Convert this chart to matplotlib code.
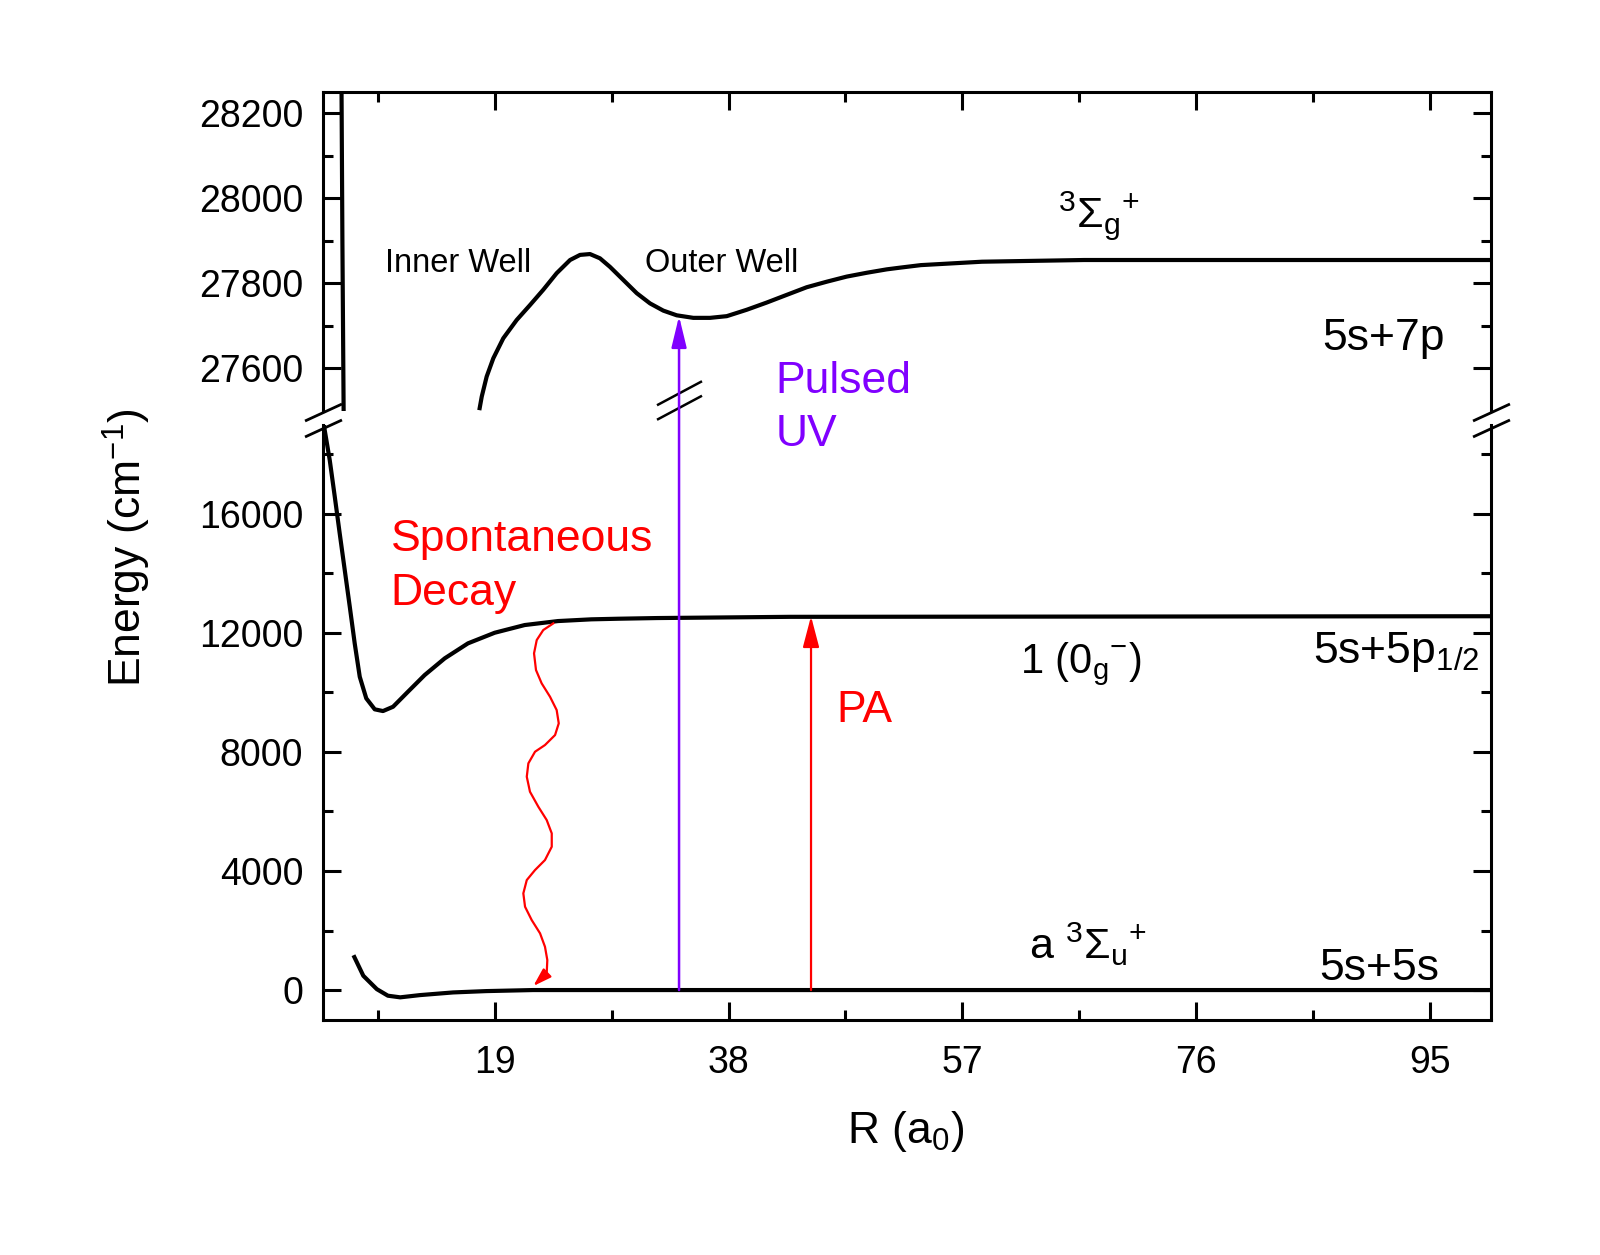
import numpy as np
import matplotlib
matplotlib.use('Agg')
import matplotlib.pyplot as plt
from matplotlib.patches import ConnectionPatch
from matplotlib.path import Path

plt.rcParams['font.family'] = ['Liberation Sans', 'DejaVu Sans']
plt.rcParams['mathtext.fontset'] = 'custom'
plt.rcParams['mathtext.rm'] = 'Liberation Sans'
plt.rcParams['mathtext.it'] = 'Liberation Sans'
plt.rcParams['mathtext.bf'] = 'Liberation Sans:bold'
plt.rcParams['mathtext.default'] = 'regular'

# --- curves (R in a0, E in cm-1) ---
# 5s+7p 3Sigma_g+ : inner wall and the double well
wall_r = [6.52, 6.60, 6.70]
wall_e = [28300, 27900, 27500]
upper_r = [17.73, 17.93, 18.33, 18.87, 19.68, 20.77, 21.85, 22.93, 24.02, 25.11,
           25.92, 26.73, 27.54, 28.35, 29.44, 30.53, 31.61, 32.69, 33.78, 35.13,
           36.49, 37.85, 39.47, 41.10, 42.72, 44.35, 45.98, 47.60, 49.23, 50.85,
           51.93, 53.63, 58.6, 66.9, 100]
upper_e = [27502, 27534, 27581, 27624, 27671, 27714, 27749, 27785, 27824, 27855,
           27867, 27869, 27859, 27839, 27808, 27777, 27753, 27736, 27725, 27719,
           27719, 27723, 27738, 27755, 27773, 27791, 27804, 27816, 27825, 27833,
           27837, 27843, 27851, 27855, 27855]

# 5s+5p1/2 1(0g-)
mid_r = [5.09, 5.16, 5.57, 5.98, 6.38, 6.79, 7.20, 7.60, 8.01, 8.54,
         9.23, 9.90, 10.72, 11.93, 13.29, 14.92, 16.81, 18.98, 21.42, 24.13,
         26.84, 29.01, 32.18, 43.0, 100]
mid_e = [19000, 18816, 17808, 16575, 15345, 14112, 12879, 11649, 10527, 9801,
         9432, 9374, 9519, 10023, 10584, 11145, 11649, 12005, 12264, 12398,
         12456, 12476, 12499, 12540, 12560]

# 5s+5s a3Sigma_u+
low_r = [7.5, 8.3, 9.4, 10.3, 11.3, 12.9, 15.6, 18.3, 22.1, 100]
low_e = [1170, 480, 30, -190, -245, -170, -80, -35, 0, 0]

# spontaneous decay wiggle
wave_r = [23.75, 22.93, 22.40, 22.18, 22.34, 22.80, 23.48, 24.02, 24.19, 23.89,
          23.07, 22.26, 21.72, 21.59, 21.85, 22.53, 23.21, 23.62, 23.62, 23.07,
          22.26, 21.59, 21.31, 21.45, 21.99, 22.67, 23.07, 23.26, 23.21, 22.12]
wave_e = [12321, 12096, 11760, 11313, 10752, 10305, 9855, 9408, 8961, 8568,
          8232, 8007, 7617, 7167, 6663, 6159, 5712, 5265, 4815, 4368,
          4032, 3696, 3249, 2799, 2352, 1905, 1455, 1008, 561, 134]

# transitions
uv_r, uv_e0, uv_e1 = 33.97, 0, 27723
pa_r, pa_e0, pa_e1 = 44.7, 0, 12560

x_major = [19, 38, 57, 76, 95]
x_minor = [9.5, 28.5, 47.5, 66.5, 85.5]
top_major = [27600, 27800, 28000, 28200]
top_minor = [27700, 27900, 28100]
bot_major = [0, 4000, 8000, 12000, 16000]
bot_minor = [2000, 6000, 10000, 14000, 18000]

RED = '#ff0000'
PURPLE = '#8000ff'

fig = plt.figure(figsize=(16, 12.55), dpi=100)
ax_top = fig.add_axes([0.2017, 0.6725, 0.7303, 0.2542])
ax_bot = fig.add_axes([0.2017, 0.1874, 0.7303, 0.4743])


def style(ax):
    ax.patch.set_visible(False)
    for s in ax.spines.values():
        s.set_linewidth(2.2)
    ax.tick_params(which='both', direction='in', width=2.2, labelsize=27,
                   pad=14, top=True, right=True)
    ax.tick_params(axis='x', pad=18)
    ax.tick_params(which='major', length=13)
    ax.tick_params(which='minor', length=7.5)
    ax.set_xlim(5, 100)
    ax.set_xticks(x_major)
    ax.set_xticks(x_minor, minor=True)


style(ax_top)
style(ax_bot)

ax_top.set_ylim(27500, 28250)
ax_top.set_yticks(top_major)
ax_top.set_yticks(top_minor, minor=True)
ax_top.spines['bottom'].set_visible(False)
ax_top.tick_params(which='both', bottom=False, labelbottom=False)

ax_bot.set_ylim(-1000, 19000)
ax_bot.set_yticks(bot_major)
ax_bot.set_yticks(bot_minor, minor=True)
ax_bot.spines['top'].set_visible(False)
ax_bot.tick_params(which='both', top=False)

# curves
ax_top.plot(wall_r, wall_e, color='k', lw=3, solid_capstyle='butt')
ax_top.plot(upper_r, upper_e, color='k', lw=3, solid_capstyle='butt')
ax_bot.plot(mid_r, mid_e, color='k', lw=3, solid_capstyle='butt')
ax_bot.plot(low_r, low_e, color='k', lw=3, solid_capstyle='butt')

# spontaneous decay
ax_bot.plot(wave_r[:-1], wave_e[:-1], color=RED, lw=1.6)
ax_bot.annotate('', xy=(wave_r[-1], wave_e[-1]), xytext=(wave_r[-2], wave_e[-2]),
                arrowprops=dict(arrowstyle='-|>,head_length=1.1,head_width=0.35',
                                color=RED, lw=1.6, shrinkA=0, shrinkB=0,
                                mutation_scale=10))

# PA arrow
ax_bot.annotate('', xy=(pa_r, pa_e1), xytext=(pa_r, pa_e0),
                arrowprops=dict(arrowstyle='-|>,head_length=0.95,head_width=0.25',
                                color=RED, lw=1.6, shrinkA=0, shrinkB=0,
                                mutation_scale=20))

# pulsed UV arrow spanning both panels
uv = ConnectionPatch(xyA=(uv_r, uv_e0), coordsA=ax_bot.transData,
                     xyB=(uv_r, uv_e1), coordsB=ax_top.transData,
                     arrowstyle='-|>,head_length=0.95,head_width=0.23',
                     mutation_scale=20, color=PURPLE, lw=1.8,
                     shrinkA=0, shrinkB=0)
fig.add_artist(uv)

# break marks
pair_big = Path([(-22.5, -4.75), (22.5, 19.25), (-22.5, -19.25), (22.5, 4.75)],
                [Path.MOVETO, Path.LINETO, Path.MOVETO, Path.LINETO])
pair_small = Path([(-18.5, -0.5), (18.5, 16.5), (-18.5, -16.5), (18.5, 0.5)],
                  [Path.MOVETO, Path.LINETO, Path.MOVETO, Path.LINETO])
ax_top.plot([uv_r], [27526], marker=pair_big, ms=32.4, mec='k', mew=1.8,
            mfc='none', ls='none', clip_on=False)
ax_top.plot([5, 100], [27480, 27480], marker=pair_small, ms=26.6, mec='k',
            mew=2.0, mfc='none', ls='none', clip_on=False)

# labels
ax_top.text(10.04, 27826, 'Inner Well', fontsize=23.5, va='baseline')
ax_top.text(31.2, 27826, 'Outer Well', fontsize=23.5, va='baseline')
ax_top.text(64.75, 27933, r'$^3\Sigma_{g}{}^{+}$', fontsize=31, va='baseline')
ax_top.text(86.3, 27643, '5s+7p', fontsize=32, va='baseline')
ax_top.text(41.8, 27543, 'Pulsed', fontsize=32, va='baseline', color=PURPLE)
ax_top.text(41.8, 27418, 'UV', fontsize=32, va='baseline', color=PURPLE,
            clip_on=False)

ax_bot.text(10.54, 14750, 'Spontaneous', fontsize=32, va='baseline', color=RED)
ax_bot.text(10.54, 12936, 'Decay', fontsize=32, va='baseline', color=RED)
ax_bot.text(61.7, 10634, r'1 (0$_{g}{}^{-}$)', fontsize=30, va='baseline')
ax_bot.text(85.5, 10977, r'5s+5p$_{1/2}$', fontsize=32, va='baseline')
ax_bot.text(46.8, 8991, 'PA', fontsize=32, va='baseline', color=RED)
ax_bot.text(62.4, 1035, r'a $^3\Sigma_{u}{}^{+}$', fontsize=31, va='baseline')
ax_bot.text(86.0, 349, '5s+5s', fontsize=32, va='baseline')

fig.text(0.0795, 0.5633, r'Energy (cm$^{-1}$)', rotation=90, ha='center',
         va='center', fontsize=32)
fig.text(0.566, 0.0892, r'R (a$_0$)', ha='center', va='baseline', fontsize=32)

fig.savefig('out.png', dpi=100)
